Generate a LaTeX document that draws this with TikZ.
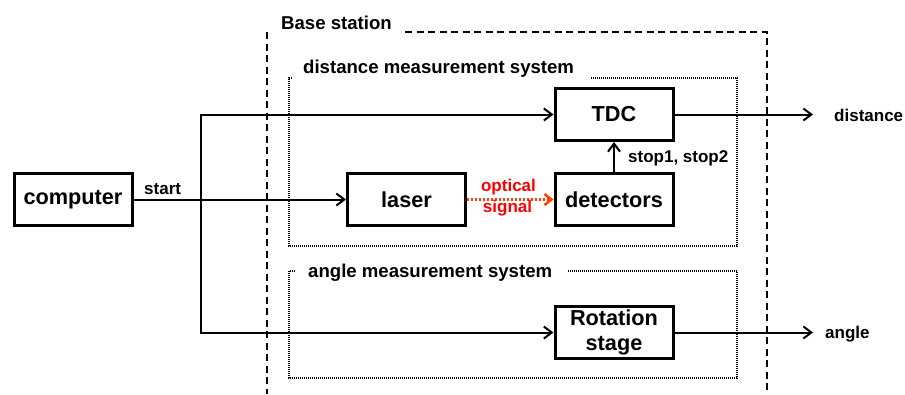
\documentclass[tikz,border=0pt]{standalone}
\usepackage{fontspec}
\setmainfont{Liberation Sans}
\usetikzlibrary{arrows.meta}
\newcommand\bxfont{\fontsize{21.7}{25}\selectfont\bfseries}
\newcommand\ttlfont{\fontsize{18.6}{22}\selectfont\bfseries}
\newcommand\lbfont{\fontsize{17}{20}\selectfont\bfseries}
\definecolor{optred}{RGB}{255,0,0}
\definecolor{optarrow}{RGB}{255,64,0}
\begin{document}
\begin{tikzpicture}[x=1pt,y=-1pt,
  box/.style={draw, line width=3pt, minimum width=118pt, minimum height=52pt, inner sep=0pt, font=\bxfont, align=center},
  conn/.style={line width=2pt, -{Straight Barb[length=8pt,width=12pt]}},
  optic/.style={line width=2.5pt, optarrow, dash pattern=on 2pt off 2pt, -{Straight Barb[length=7pt,width=11pt]}},
  lbl/.style={font=\lbfont, inner sep=0pt},
  ttl/.style={font=\ttlfont, inner sep=0pt},
  basebox/.style={line width=2pt, dash pattern=on 7pt off 4.5pt},
  subbox/.style={line width=1.5pt, dash pattern=on 1pt off 1pt}]
\useasboundingbox (0,0) rectangle (905,394);
% base station frame
\draw[basebox] (267,32) -- (267,394);
\draw[basebox] (405,32) -- (767,32) -- (767,394);
\node[ttl, anchor=base west] (base) at (281,29) {Base station};
% distance measurement system frame
\draw[subbox] (292,78) -- (289,78) -- (289,246) -- (737,246) -- (737,78) -- (590,78);
\node[ttl, anchor=base west] (dms) at (303,73) {distance measurement system};
% angle measurement system frame
\draw[subbox] (295,271) -- (289,271) -- (289,378) -- (737,378) -- (737,271) -- (568,271);
\node[ttl, anchor=base west] (ams) at (308,277) {angle measurement system};
% boxes
\node[box] (computer) at (73,199.5) {computer};
\node[box] (laser) at (406.5,199.5) {laser};
\node[box] (detectors) at (614,199.5) {detectors};
\node[box] (tdc) at (614,114.5) {TDC};
\node[box] (rot) at (614,332.5) {Rotation\\stage};
% junctions and ends
\coordinate (jt) at (201,114.5);
\coordinate (jb) at (201,332.5);
\coordinate (dout) at (813,114.5);
\coordinate (aout) at (813,332.5);
% connectors
\draw[conn] (computer.east) -- (laser.west);
\draw[conn] (jb) -- (jt) -- (tdc.west);
\draw[conn, line cap=rect] (jb) -- (rot.west);
\draw[optic] (laser.east) -- (detectors.west);
\draw[conn] (detectors.north) -- (tdc.south);
\draw[conn] (tdc.east) -- (dout);
\draw[conn] (rot.east) -- (aout);
% labels
\node[lbl, anchor=base west] (start) at (144,194) {start};
\node[lbl, anchor=base, text=optred] (opt1) at (508.5,191) {optical};
\node[lbl, anchor=base, text=optred] (opt2) at (507.5,212) {signal};
\node[lbl, anchor=base west] (stops) at (628,162) {stop1, stop2};
\node[lbl, anchor=base west] (dist) at (834,121) {distance};
\node[lbl, anchor=base west] (ang) at (825,338) {angle};
\end{tikzpicture}
\end{document}
